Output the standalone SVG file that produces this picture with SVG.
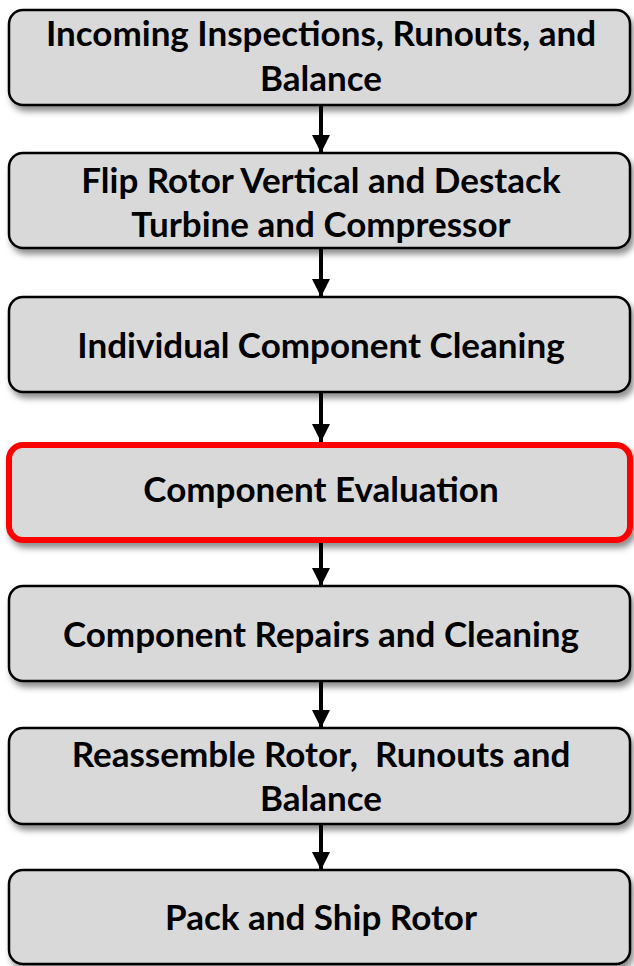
<svg xmlns="http://www.w3.org/2000/svg" width="634" height="966" viewBox="0 0 634 966">
<defs>
<filter id="sh" x="-5%" y="-10%" width="115%" height="140%">
<feDropShadow dx="3" dy="5" stdDeviation="3" flood-color="#000" flood-opacity="0.45"/>
</filter>
<marker id="ah" markerWidth="4.5" markerHeight="4.5" refX="4.5" refY="2.25" orient="auto" markerUnits="strokeWidth">
<path d="M0,0 L4.5,2.25 L0,4.5 Z" fill="#000"/>
</marker>
</defs>
<style>
.box{fill:#d9d9d9;stroke:#000;stroke-width:2.5;filter:url(#sh)}
.hl{stroke:#ff0000;stroke-width:6}
.t{font-family:Lato,"Liberation Sans",sans-serif;font-weight:bold;font-size:35px;fill:#000;text-anchor:middle}
.c{stroke:#000;stroke-width:4;fill:none;marker-end:url(#ah)}
</style>
<g id="connectors">
<line class="c" x1="321" y1="106" x2="321" y2="153"/>
<line class="c" x1="321" y1="249" x2="321" y2="297"/>
<line class="c" x1="321" y1="393" x2="321" y2="442"/>
<line class="c" x1="321" y1="543" x2="321" y2="586"/>
<line class="c" x1="321" y1="681" x2="321" y2="728"/>
<line class="c" x1="321" y1="825" x2="321" y2="870"/>
</g>
<g id="n1"><rect class="box" x="9" y="10" width="621" height="95" rx="14"/>
<text class="t" x="321" y="46">Incoming Inspections, Runouts, and</text>
<text class="t" x="321" y="91">Balance</text></g>
<g id="n2"><rect class="box" x="9" y="153" width="621" height="95" rx="14"/>
<text class="t" x="321" y="193">Flip Rotor Vertical and Destack</text>
<text class="t" x="321" y="237">Turbine and Compressor</text></g>
<g id="n3"><rect class="box" x="9" y="297" width="621" height="95" rx="14"/>
<text class="t" x="321" y="358">Individual Component Cleaning</text></g>
<g id="n4"><rect class="box hl" x="9" y="445" width="621" height="95" rx="14"/>
<text class="t" x="321" y="502">Component Evaluation</text></g>
<g id="n5"><rect class="box" x="9" y="586" width="621" height="95" rx="14"/>
<text class="t" x="321" y="647">Component Repairs and Cleaning</text></g>
<g id="n6"><rect class="box" x="9" y="728" width="621" height="96" rx="14"/>
<text class="t" x="321" y="767" xml:space="preserve">Reassemble Rotor,  Runouts and</text>
<text class="t" x="321" y="811">Balance</text></g>
<g id="n7"><rect class="box" x="9" y="870" width="621" height="94" rx="14"/>
<text class="t" x="321" y="930">Pack and Ship Rotor</text></g>
</svg>
